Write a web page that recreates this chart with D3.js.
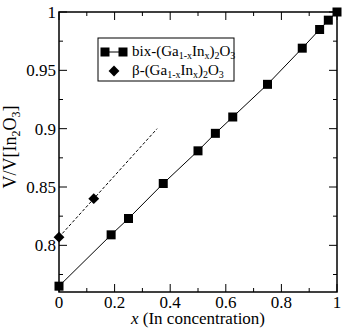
<!DOCTYPE html>
<html>
<head>
<meta charset="utf-8">
<script src="https://cdn.jsdelivr.net/npm/d3@7"></script>
<style>
  body { margin: 0; background: white; }
</style>
</head>
<body>
<div id="chart"></div>
<script>
// bixbyite (Ga1-xInx)2O3
let bixX = [0, 0.1875, 0.25, 0.375, 0.5, 0.5625, 0.625, 0.75, 0.875, 0.9375, 0.96875, 1];
let bixY = [0.765, 0.809, 0.823, 0.853, 0.881, 0.896, 0.910, 0.938, 0.969, 0.985, 0.993, 1.0];
// beta (Ga1-xInx)2O3
let betaX = [0, 0.125];
let betaY = [0.807, 0.840];
// dashed extrapolation of beta
let fitX = [0, 0.353];
let fitY = [0.807, 0.900];

let xTicks = [0, 0.2, 0.4, 0.6, 0.8, 1];
let yTicks = [0.8, 0.85, 0.9, 0.95, 1];

let FONT = "'Liberation Serif'";

let margin = { top: 12, left: 59, right: 6, bottom: 36 },
  W = 343, H = 328,
  width = W - margin.left - margin.right,
  height = H - margin.top - margin.bottom;

let svg = d3.select('#chart').append('svg')
  .attr('width', W).attr('height', H);

let g = svg.append('g').attr('transform', 'translate(' + margin.left + ',' + margin.top + ')');

let x = d3.scaleLinear().domain([0, 1]).range([0, width]);
let y = d3.scaleLinear().domain([0.76, 1]).range([height, 0]);

// frame
g.append('rect').attr('width', width).attr('height', height)
  .attr('fill', 'none').attr('stroke', 'black').attr('stroke-width', 1.5);

let xMinor = d3.range(0.1, 1, 0.2);
let yMinor = d3.range(0.775, 1, 0.05);

xTicks.forEach(function(t) {
  g.append('line').attr('x1', x(t)).attr('x2', x(t)).attr('y1', height).attr('y2', height - 8).attr('stroke', 'black');
  g.append('line').attr('x1', x(t)).attr('x2', x(t)).attr('y1', 0).attr('y2', 8).attr('stroke', 'black');
  g.append('text').attr('x', x(t)).attr('y', height + 16).attr('text-anchor', 'middle')
    .style('font-family', FONT).style('font-size', '17px').text(String(t));
});
xMinor.forEach(function(t) {
  g.append('line').attr('x1', x(t)).attr('x2', x(t)).attr('y1', height).attr('y2', height - 4).attr('stroke', 'black');
  g.append('line').attr('x1', x(t)).attr('x2', x(t)).attr('y1', 0).attr('y2', 4).attr('stroke', 'black');
});
yTicks.forEach(function(t) {
  g.append('line').attr('x1', 0).attr('x2', 8).attr('y1', y(t)).attr('y2', y(t)).attr('stroke', 'black');
  g.append('line').attr('x1', width).attr('x2', width - 8).attr('y1', y(t)).attr('y2', y(t)).attr('stroke', 'black');
  g.append('text').attr('x', -3).attr('y', y(t) + 6).attr('text-anchor', 'end')
    .style('font-family', FONT).style('font-size', '17px').text(String(t));
});
yMinor.forEach(function(t) {
  g.append('line').attr('x1', 0).attr('x2', 4).attr('y1', y(t)).attr('y2', y(t)).attr('stroke', 'black');
  g.append('line').attr('x1', width).attr('x2', width - 4).attr('y1', y(t)).attr('y2', y(t)).attr('stroke', 'black');
});

let line = d3.line().x(function(d) { return x(d[0]); }).y(function(d) { return y(d[1]); });

// bix line + squares
let bix = d3.zip(bixX, bixY);
g.append('path').attr('d', line(bix)).attr('fill', 'none').attr('stroke', 'black').attr('stroke-width', 1);
g.selectAll('.sq').data(bix).enter().append('rect')
  .attr('x', function(d) { return x(d[0]) - 4.5; })
  .attr('y', function(d) { return y(d[1]) - 4.5; })
  .attr('width', 9).attr('height', 9).attr('fill', 'black');

// beta dashed fit + diamonds
g.append('path').attr('d', line(d3.zip(fitX, fitY))).attr('fill', 'none')
  .attr('stroke', 'black').attr('stroke-width', 1).attr('stroke-dasharray', '3,2');
g.selectAll('.dm').data(d3.zip(betaX, betaY)).enter().append('path')
  .attr('d', d3.symbol().type(d3.symbolDiamond2).size(75))
  .attr('transform', function(d) { return 'translate(' + x(d[0]) + ',' + y(d[1]) + ')'; })
  .attr('fill', 'black');

// legend
let lg = svg.append('g');
lg.append('rect').attr('x', 98).attr('y', 38).attr('width', 136).attr('height', 43)
  .attr('fill', 'white').attr('stroke', 'black').attr('stroke-width', 1);
lg.append('line').attr('x1', 105).attr('x2', 123).attr('y1', 52).attr('y2', 52).attr('stroke', 'black');
[105, 123].forEach(function(cx) {
  lg.append('rect').attr('x', cx - 4.5).attr('y', 47.5).attr('width', 9).attr('height', 9).attr('fill', 'black');
});
lg.append('path').attr('d', d3.symbol().type(d3.symbolDiamond2).size(75))
  .attr('transform', 'translate(114,71)').attr('fill', 'black');

function formula(t, px, py, prefix) {
  let tx = t.append('text').attr('x', px).attr('y', py)
    .style('font-family', FONT).style('font-size', '15px');
  tx.append('tspan').text(prefix + '(Ga');
  tx.append('tspan').style('font-size', '10px').attr('dy', 3).text('1-x');
  tx.append('tspan').attr('dy', -3).text('In');
  tx.append('tspan').style('font-size', '10px').attr('dy', 3).text('x');
  tx.append('tspan').attr('dy', -3).text(')');
  tx.append('tspan').style('font-size', '10px').attr('dy', 3).text('2');
  tx.append('tspan').attr('dy', -3).text('O');
  tx.append('tspan').style('font-size', '10px').attr('dy', 3).text('3');
}
formula(lg, 132, 56, 'bix-');
formula(lg, 132, 75, '\u03b2-');

// axis labels
let xl = svg.append('text').attr('x', margin.left + width / 2).attr('y', 324)
  .attr('text-anchor', 'middle').style('font-family', FONT).style('font-size', '17px');
xl.append('tspan').style('font-style', 'italic').text('x');
xl.append('tspan').text(' (In concentration)');

let yl = svg.append('text').attr('transform', 'translate(16,' + (margin.top + height / 2 - 5) + ') rotate(-90)')
  .attr('text-anchor', 'middle').style('font-family', FONT).style('font-size', '18px');
yl.append('tspan').text('V/V[In');
yl.append('tspan').style('font-size', '12px').attr('dy', 4).text('2');
yl.append('tspan').attr('dy', -4).text('O');
yl.append('tspan').style('font-size', '12px').attr('dy', 4).text('3');
yl.append('tspan').attr('dy', -4).text(']');
</script>
</body>
</html>
